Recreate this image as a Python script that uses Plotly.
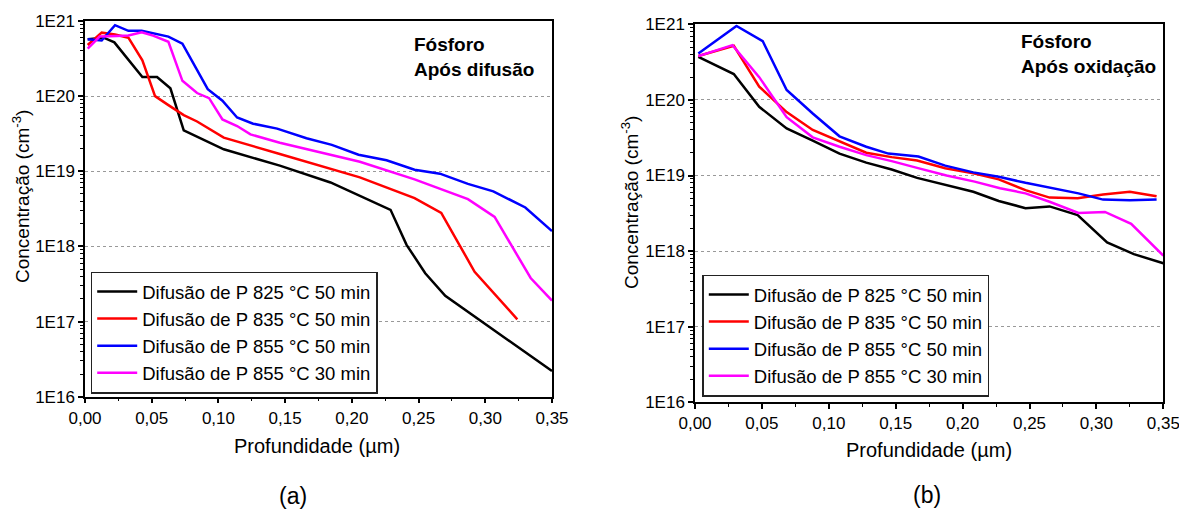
import plotly.graph_objects as go

# ---------------- data (a) Após difusão ----------------
a_825_50_x = [0.002, 0.014, 0.022, 0.043, 0.054, 0.064, 0.074, 0.104, 0.146, 0.184, 0.229, 0.241, 0.255, 0.270, 0.350]
a_825_50_y = [5.7e20, 6.0e20, 5.2e20, 1.8e20, 1.8e20, 1.27e20, 3.5e19, 1.96e19, 1.19e19, 7.1e18, 3.07e18, 1.05e18, 4.4e17, 2.2e17, 2.2e16]

a_835_50_x = [0.002, 0.0125, 0.0225, 0.0325, 0.043, 0.0525, 0.0625, 0.074, 0.084, 0.104, 0.146, 0.206, 0.247, 0.267, 0.292, 0.324]
a_835_50_y = [4.8e20, 7.0e20, 6.6e20, 6.0e20, 3.0e20, 1.0e20, 7.6e19, 5.6e19, 4.6e19, 2.8e19, 1.7e19, 8.3e18, 4.4e18, 2.8e18, 4.6e17, 1.07e17]

a_855_50_x = [0.002, 0.0125, 0.0225, 0.0325, 0.0425, 0.0625, 0.073, 0.092, 0.103, 0.114, 0.126, 0.144, 0.166, 0.185, 0.205, 0.226, 0.247, 0.266, 0.287, 0.306, 0.330, 0.350]
a_855_50_y = [5.7e20, 5.5e20, 8.8e20, 7.4e20, 7.4e20, 6.2e20, 5.0e20, 1.24e20, 8.7e19, 5.2e19, 4.3e19, 3.7e19, 2.75e19, 2.25e19, 1.66e19, 1.4e19, 1.05e19, 9.3e18, 6.8e18, 5.4e18, 3.3e18, 1.6e18]

a_855_30_x = [0.002, 0.011, 0.024, 0.0325, 0.0425, 0.051, 0.0625, 0.073, 0.084, 0.093, 0.103, 0.114, 0.124, 0.146, 0.206, 0.247, 0.287, 0.307, 0.334, 0.350]
a_855_30_y = [4.3e20, 6.2e20, 6.3e20, 6.4e20, 7.1e20, 6.4e20, 5.3e20, 1.6e20, 1.1e20, 9.4e19, 4.9e19, 4.0e19, 3.1e19, 2.4e19, 1.34e19, 7.8e18, 4.25e18, 2.47e18, 3.8e17, 1.9e17]

# ---------------- data (b) Após oxidação ----------------
b_825_50_x = [0.0025, 0.029, 0.048, 0.0685, 0.088, 0.108, 0.128, 0.147, 0.166, 0.187, 0.208, 0.227, 0.247, 0.265, 0.286, 0.308, 0.328, 0.350]
b_825_50_y = [3.7e20, 2.2e20, 8.1e19, 4.2e19, 2.9e19, 1.95e19, 1.48e19, 1.2e19, 9.3e18, 7.5e18, 6.1e18, 4.6e18, 3.7e18, 3.9e18, 3.0e18, 1.3e18, 9.1e17, 6.9e17]

b_835_50_x = [0.0025, 0.029, 0.048, 0.0685, 0.088, 0.108, 0.128, 0.147, 0.166, 0.187, 0.208, 0.227, 0.247, 0.265, 0.286, 0.305, 0.325, 0.345]
b_835_50_y = [3.8e20, 5.2e20, 1.5e20, 6.9e19, 4.0e19, 2.8e19, 2.0e19, 1.75e19, 1.58e19, 1.25e19, 1.07e19, 8.9e18, 6.4e18, 5.1e18, 5.0e18, 5.6e18, 6.1e18, 5.3e18]

b_855_50_x = [0.0025, 0.031, 0.0506, 0.0685, 0.088, 0.108, 0.128, 0.1445, 0.167, 0.187, 0.208, 0.227, 0.247, 0.265, 0.2866, 0.305, 0.325, 0.345]
b_855_50_y = [4.1e20, 9.5e20, 6.0e20, 1.35e20, 6.6e19, 3.3e19, 2.4e19, 1.95e19, 1.78e19, 1.35e19, 1.1e19, 9.6e18, 8.0e18, 6.9e18, 5.8e18, 4.8e18, 4.7e18, 4.8e18]

b_855_30_x = [0.0025, 0.028, 0.048, 0.0685, 0.088, 0.108, 0.128, 0.147, 0.166, 0.188, 0.209, 0.228, 0.247, 0.265, 0.2866, 0.3064, 0.326, 0.350]
b_855_30_y = [3.8e20, 5.3e20, 2.0e20, 5.9e19, 3.2e19, 2.4e19, 1.86e19, 1.55e19, 1.26e19, 1.0e19, 8.3e18, 6.8e18, 5.8e18, 4.5e18, 3.2e18, 3.3e18, 2.3e18, 8.7e17]

series_names = ["Difusão de P 825 °C 50 min", "Difusão de P 835 °C 50 min",
                "Difusão de P 855 °C 50 min", "Difusão de P 855 °C 30 min"]
series_colors = ["#000000", "#FF0000", "#0000FF", "#FF00FF"]

x_tickvals = [0.0, 0.05, 0.10, 0.15, 0.20, 0.25, 0.30, 0.35]
x_ticktext = ["0,00", "0,05", "0,10", "0,15", "0,20", "0,25", "0,30", "0,35"]
x_minorvals = [0.025, 0.075, 0.125, 0.175, 0.225, 0.275, 0.325]
y_tickvals = [1e16, 1e17, 1e18, 1e19, 1e20, 1e21]
y_ticktext = ["1E16", "1E17", "1E18", "1E19", "1E20", "1E21"]
y_minorvals = [k * 10.0 ** n for n in range(16, 21) for k in range(2, 10)]

FONT = "Arial, Liberation Sans, sans-serif"
W, H = 1179, 511

fig = go.Figure()

left_sets = [(a_825_50_x, a_825_50_y), (a_835_50_x, a_835_50_y), (a_855_50_x, a_855_50_y), (a_855_30_x, a_855_30_y)]
right_sets = [(b_825_50_x, b_825_50_y), (b_835_50_x, b_835_50_y), (b_855_50_x, b_855_50_y), (b_855_30_x, b_855_30_y)]

for (xs, ys), name, col in zip(left_sets, series_names, series_colors):
    fig.add_trace(go.Scatter(x=xs, y=ys, mode="lines", name=name, line=dict(color=col, width=2.5),
                             xaxis="x", yaxis="y", legend="legend"))
for (xs, ys), name, col in zip(right_sets, series_names, series_colors):
    fig.add_trace(go.Scatter(x=xs, y=ys, mode="lines", name=name, line=dict(color=col, width=2.5),
                             xaxis="x2", yaxis="y2", legend="legend2"))

def xaxis_cfg(domain, anchor):
    return dict(domain=domain, anchor=anchor, range=[0, 0.35], showgrid=False, zeroline=False,
                showline=True, mirror=True, linecolor="black", linewidth=1.5, automargin=False,
                tickmode="array", tickvals=x_tickvals, ticktext=x_ticktext,
                ticklabeloverflow="allow",
                ticks="outside", ticklen=5, tickwidth=1.5, tickcolor="black",
                tickfont=dict(family=FONT, size=17, color="black"),
                minor=dict(tickmode="array", tickvals=x_minorvals, ticks="outside",
                           ticklen=3, tickwidth=1, tickcolor="black", showgrid=False))

def yaxis_cfg(domain, anchor):
    return dict(domain=domain, anchor=anchor, type="log", range=[16, 21], zeroline=False,
                showline=True, mirror=True, linecolor="black", linewidth=1.5, automargin=False,
                showgrid=True, gridcolor="#999999", griddash="dot", gridwidth=1,
                tickmode="array", tickvals=y_tickvals, ticktext=y_ticktext,
                ticklabeloverflow="allow",
                ticks="outside", ticklen=5, tickwidth=1.5, tickcolor="black",
                tickfont=dict(family=FONT, size=17, color="black"),
                minor=dict(tickmode="array", tickvals=y_minorvals, ticks="outside",
                           ticklen=3, tickwidth=1, tickcolor="black", showgrid=False))

fig.update_layout(
    width=W, height=H, margin=dict(l=0, r=0, t=0, b=0, autoexpand=False),
    paper_bgcolor="white", plot_bgcolor="white",
    font=dict(family=FONT, color="black"),
    xaxis=xaxis_cfg([85 / W, 552 / W], "y"),
    yaxis=yaxis_cfg([1 - 396.7 / H, 1 - 21 / H], "x"),
    xaxis2=xaxis_cfg([695 / W, 1163.3 / W], "y2"),
    yaxis2=yaxis_cfg([1 - 402.3 / H, 1 - 24.3 / H], "x2"),
    legend=dict(x=90.7 / W, y=1 - 393.5 / H, xanchor="left", yanchor="bottom",
                bgcolor="white", bordercolor="#222222", borderwidth=1.5,
                font=dict(family=FONT, size=18.5, color="black"), tracegroupgap=0,
                itemwidth=40),
    legend2=dict(x=702.3 / W, y=1 - 396.5 / H, xanchor="left", yanchor="bottom",
                 bgcolor="white", bordercolor="#222222", borderwidth=1.5,
                 font=dict(family=FONT, size=18.5, color="black"), tracegroupgap=0,
                 itemwidth=40),
    showlegend=True,
)

annots = [
    dict(text="<b>Fósforo<br>Após difusão</b>", x=412 / W, y=1 - 32 / H, xanchor="left", yanchor="top",
         align="left", font=dict(size=19)),
    dict(text="<b>Fósforo<br>Após oxidação</b>", x=1019 / W, y=1 - 29 / H, xanchor="left", yanchor="top",
         align="left", font=dict(size=19)),
    dict(text="Profundidade (µm)", x=317 / W, y=1 - 446 / H, xanchor="center", yanchor="middle",
         font=dict(size=20)),
    dict(text="Profundidade (µm)", x=929 / W, y=1 - 450 / H, xanchor="center", yanchor="middle",
         font=dict(size=20)),
    dict(text="Concentração (cm<sup>-3</sup>)", x=21 / W, y=1 - 197 / H, xanchor="center", yanchor="middle",
         textangle=-90, font=dict(size=19)),
    dict(text="Concentração (cm<sup>-3</sup>)", x=630 / W, y=1 - 203 / H, xanchor="center", yanchor="middle",
         textangle=-90, font=dict(size=19)),
    dict(text="(a)", x=293 / W, y=1 - 496 / H, xanchor="center", yanchor="middle", font=dict(size=23)),
    dict(text="(b)", x=927 / W, y=1 - 495 / H, xanchor="center", yanchor="middle", font=dict(size=23)),
]
for a in annots:
    a.update(xref="paper", yref="paper", showarrow=False)
    a["font"] = dict(family=FONT, color="black", **a["font"])
fig.update_layout(annotations=annots)

fig.write_html("out.html")
